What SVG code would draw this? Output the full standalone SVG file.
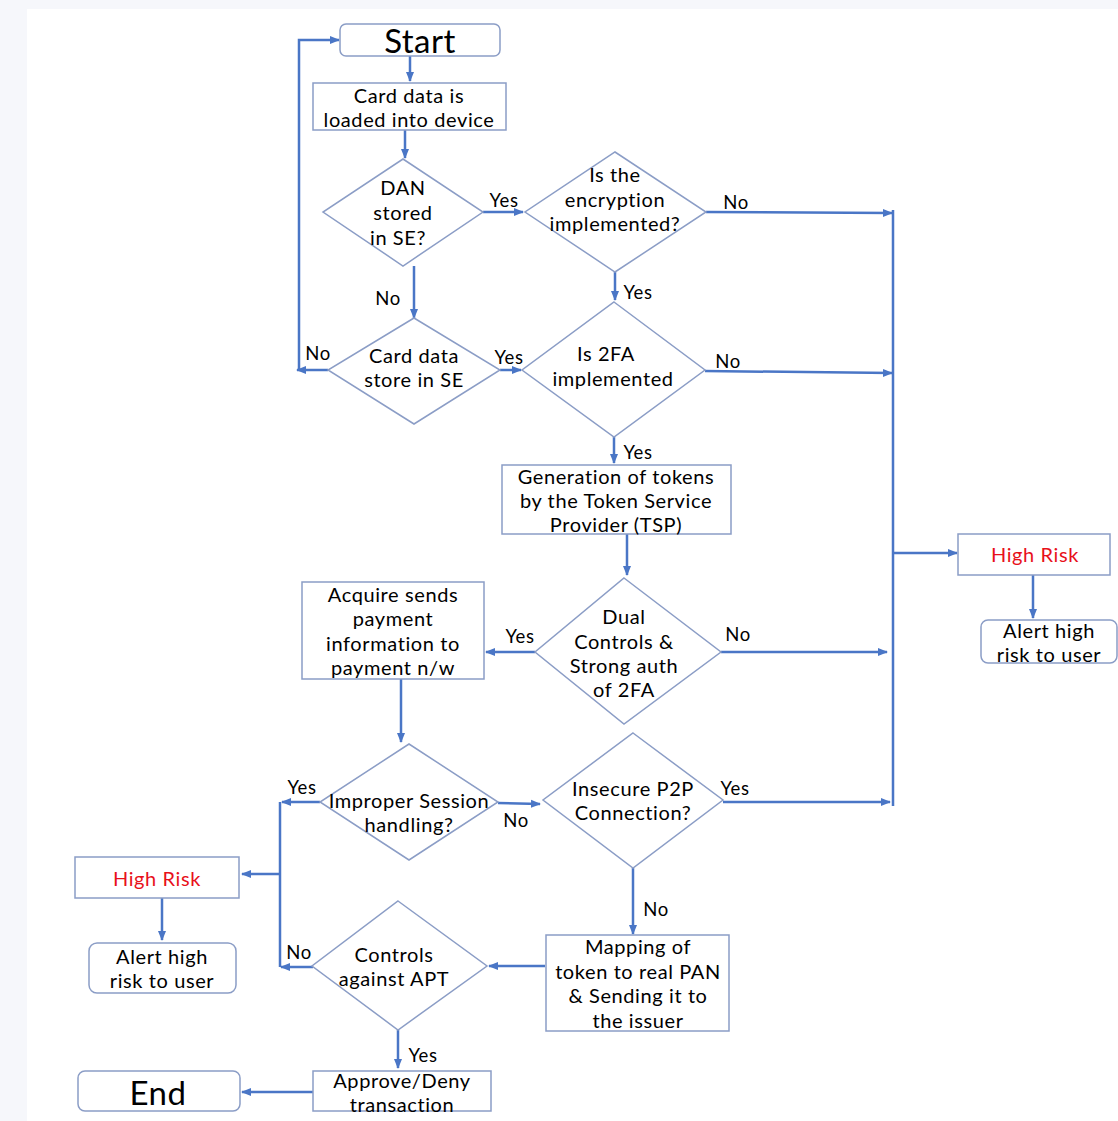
<svg xmlns="http://www.w3.org/2000/svg" width="1118" height="1121" viewBox="0 0 1118 1121">
<style>
.node{fill:#ffffff;stroke:#8b9dc6;stroke-width:1.5}
.t{font-family:Lato,"Open Sans","Liberation Sans",sans-serif;font-size:20px;letter-spacing:0.6px;fill:#000;text-anchor:middle;dominant-baseline:central}
.big{font-size:33px;letter-spacing:0.5px}
.red{fill:#e8101a}
.c{fill:none;stroke:#4a76c6;stroke-width:2.5}
.lbl{font-family:Lato,"Open Sans","Liberation Sans",sans-serif;font-size:18.5px;letter-spacing:0.5px;fill:#000;text-anchor:middle;dominant-baseline:central}
</style>
<defs>
<marker id="ah" viewBox="0 0 10 10" refX="9" refY="5" markerWidth="4" markerHeight="4" orient="auto" markerUnits="strokeWidth">
<path d="M0,1 L10,5 L0,9 z" fill="#4a76c6"/>
</marker>
</defs>
<rect x="0" y="0" width="1118" height="1121" fill="#f6f7fb"/>
<rect x="27" y="9" width="1091" height="1112" fill="#ffffff"/>

<g id="connectors">
<path class="c" d="M410,56 V81" marker-end="url(#ah)"/>
<path class="c" d="M405,130 V158" marker-end="url(#ah)"/>
<path class="c" d="M483,212 H523" marker-end="url(#ah)"/>
<path class="c" d="M706,212 L892,213" marker-end="url(#ah)"/>
<path class="c" d="M615,272 V300" marker-end="url(#ah)"/>
<path class="c" d="M414,266 V318" marker-end="url(#ah)"/>
<path class="c" d="M328,370 H297" marker-end="url(#ah)"/>
<path class="c" d="M299,370 V40 H339" marker-end="url(#ah)"/>
<path class="c" d="M500,370 H521" marker-end="url(#ah)"/>
<path class="c" d="M705,371 L892,373" marker-end="url(#ah)"/>
<path class="c" d="M614,437 V463" marker-end="url(#ah)"/>
<path class="c" d="M627,534 V575" marker-end="url(#ah)"/>
<path class="c" d="M535,652 H486" marker-end="url(#ah)"/>
<path class="c" d="M721,652 H887" marker-end="url(#ah)"/>
<path class="c" d="M401,679 V742" marker-end="url(#ah)"/>
<path class="c" d="M320,802 H282" marker-end="url(#ah)"/>
<path class="c" d="M280,802 V967"/>
<path class="c" d="M280,874 H242" marker-end="url(#ah)"/>
<path class="c" d="M313,967 H281" marker-end="url(#ah)"/>
<path class="c" d="M498,803 L540,804" marker-end="url(#ah)"/>
<path class="c" d="M723,802 H890" marker-end="url(#ah)"/>
<path class="c" d="M633,868 V934" marker-end="url(#ah)"/>
<path class="c" d="M545,966 H489" marker-end="url(#ah)"/>
<path class="c" d="M398,1030 V1068" marker-end="url(#ah)"/>
<path class="c" d="M313,1092 H242" marker-end="url(#ah)"/>
<path class="c" d="M162,898 V940" marker-end="url(#ah)"/>
<path class="c" d="M893,210 V806"/>
<path class="c" d="M893,553 H957" marker-end="url(#ah)"/>
<path class="c" d="M1033,575 V618" marker-end="url(#ah)"/>
<text class="lbl" x="504" y="200">Yes</text>
<text class="lbl" x="736" y="202">No</text>
<text class="lbl" x="638" y="292">Yes</text>
<text class="lbl" x="388" y="298">No</text>
<text class="lbl" x="318" y="353">No</text>
<text class="lbl" x="509" y="357">Yes</text>
<text class="lbl" x="728" y="361">No</text>
<text class="lbl" x="638" y="452">Yes</text>
<text class="lbl" x="520" y="636">Yes</text>
<text class="lbl" x="738" y="634">No</text>
<text class="lbl" x="302" y="787">Yes</text>
<text class="lbl" x="516" y="820">No</text>
<text class="lbl" x="735" y="788">Yes</text>
<text class="lbl" x="656" y="909">No</text>
<text class="lbl" x="299" y="952">No</text>
<text class="lbl" x="423" y="1055">Yes</text>
</g>

<g id="start">
<rect class="node" x="340" y="24" width="160" height="32" rx="6"/>
<text class="t big" x="420" y="40">Start</text>
</g>
<g id="card-loaded">
<rect class="node" x="313" y="83" width="193" height="47"/>
<text class="t" x="409" y="95">Card data is</text>
<text class="t" x="409" y="119">loaded into device</text>
</g>
<g id="dan-stored">
<polygon class="node" points="403,159 483,212 403,266 323,212"/>
<text class="t" x="403" y="187">DAN</text>
<text class="t" x="403" y="212">stored</text>
<text class="t" x="398" y="237">in SE?</text>
</g>
<g id="encryption">
<polygon class="node" points="615,152 706,212 615,272 525,212"/>
<text class="t" x="615" y="174">Is the</text>
<text class="t" x="615" y="199">encryption</text>
<text class="t" x="615" y="223">implemented?</text>
</g>
<g id="card-store-se">
<polygon class="node" points="414,318 500,370 414,424 328,370"/>
<text class="t" x="414" y="355">Card data</text>
<text class="t" x="414" y="379">store in SE</text>
</g>
<g id="twofa">
<polygon class="node" points="614,302 705,370 614,437 522,370"/>
<text class="t" x="606" y="353">Is 2FA</text>
<text class="t" x="613" y="378">implemented</text>
</g>
<g id="tsp">
<rect class="node" x="502" y="465" width="229" height="69"/>
<text class="t" x="616" y="476">Generation of tokens</text>
<text class="t" x="616" y="500">by the Token Service</text>
<text class="t" x="616" y="524">Provider (TSP)</text>
</g>
<g id="dual-controls">
<polygon class="node" points="624,578 721,652 624,724 535,652"/>
<text class="t" x="624" y="616">Dual</text>
<text class="t" x="624" y="641">Controls &amp;</text>
<text class="t" x="624" y="665">Strong auth</text>
<text class="t" x="624" y="689">of 2FA</text>
</g>
<g id="acquire">
<rect class="node" x="302" y="582" width="182" height="97"/>
<text class="t" x="393" y="594">Acquire sends</text>
<text class="t" x="393" y="618">payment</text>
<text class="t" x="393" y="643">information to</text>
<text class="t" x="393" y="667">payment n/w</text>
</g>
<g id="high-risk-right">
<rect class="node" x="958" y="534" width="152" height="41"/>
<text class="t red" x="1035" y="554">High Risk</text>
</g>
<g id="alert-right">
<rect class="node" x="981" y="620" width="136" height="43" rx="7"/>
<text class="t" x="1049" y="630">Alert high</text>
<text class="t" x="1049" y="654">risk to user</text>
</g>
<g id="improper-session">
<polygon class="node" points="409,744 498,802 409,860 320,802"/>
<text class="t" x="409" y="800">Improper Session</text>
<text class="t" x="409" y="824">handling?</text>
</g>
<g id="insecure-p2p">
<polygon class="node" points="633,733 723,800 633,868 543,800"/>
<text class="t" x="633" y="788">Insecure P2P</text>
<text class="t" x="633" y="812">Connection?</text>
</g>
<g id="high-risk-left">
<rect class="node" x="75" y="857" width="164" height="41"/>
<text class="t red" x="157" y="878">High Risk</text>
</g>
<g id="alert-left">
<rect class="node" x="89" y="943" width="147" height="50" rx="8"/>
<text class="t" x="162" y="956">Alert high</text>
<text class="t" x="162" y="980">risk to user</text>
</g>
<g id="controls-apt">
<polygon class="node" points="398,901 487,966 398,1030 312,966"/>
<text class="t" x="394" y="954">Controls</text>
<text class="t" x="394" y="978">against APT</text>
</g>
<g id="mapping">
<rect class="node" x="546" y="935" width="183" height="96"/>
<text class="t" x="638" y="946">Mapping of</text>
<text class="t" x="638" y="971">token to real PAN</text>
<text class="t" x="638" y="995">&amp; Sending it to</text>
<text class="t" x="638" y="1020">the issuer</text>
</g>
<g id="approve-deny">
<rect class="node" x="313" y="1071" width="178" height="40"/>
<text class="t" x="402" y="1080">Approve/Deny</text>
<text class="t" x="402" y="1104">transaction</text>
</g>
<g id="end">
<rect class="node" x="78" y="1071" width="162" height="40" rx="7"/>
<text class="t big" x="158" y="1092">End</text>
</g>
</svg>
